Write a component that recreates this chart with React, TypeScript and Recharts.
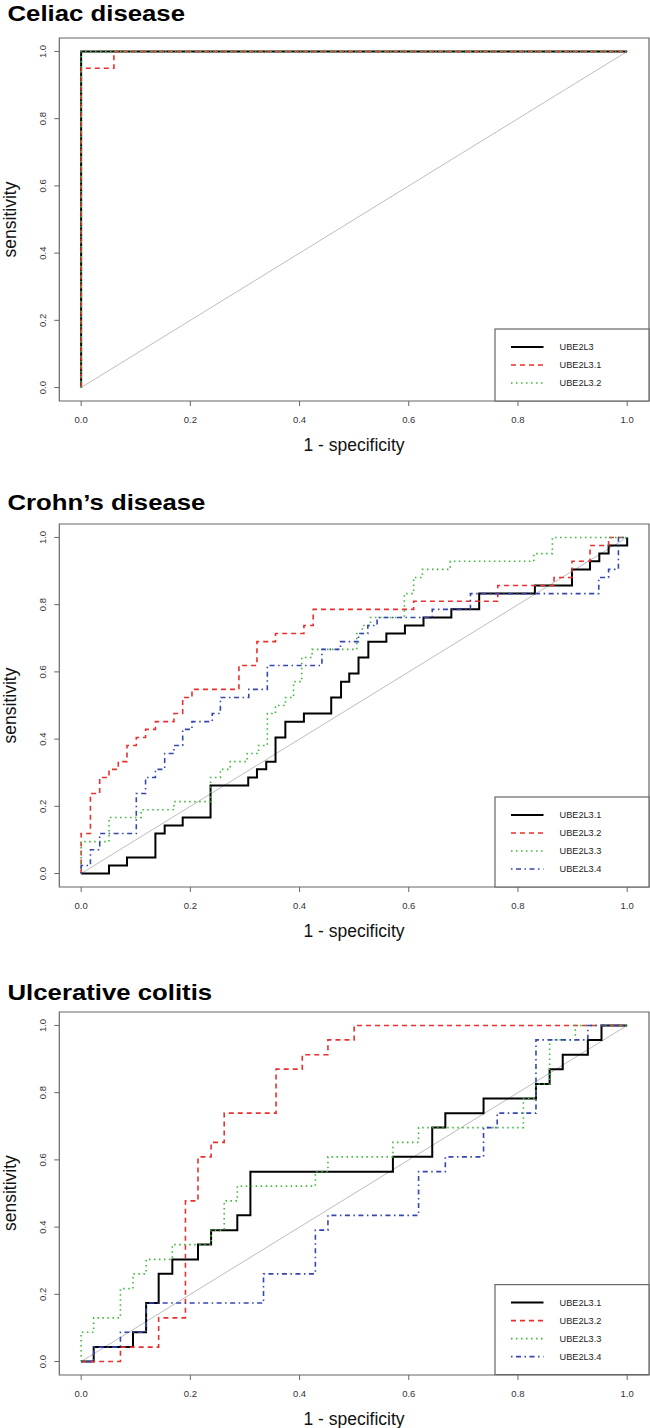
import React from 'react'
import { LineChart, Line, XAxis, YAxis, ReferenceArea } from 'recharts'

type Pt = [number, number]

// shared axis ticks
const xTicks = [0, 0.2, 0.4, 0.6, 0.8, 1]
const yTicks = [0, 0.2, 0.4, 0.6, 0.8, 1]
const diagonal: Pt[] = [[0, 0], [1, 1]]

// ROC corners (1 - specificity, sensitivity), drawn as stepAfter
const celiacNames = ['UBE2L3', 'UBE2L3.1', 'UBE2L3.2']
const celiacA: Pt[] = [[0, 0], [0, 1], [1, 1]]
const celiacB: Pt[] = [[0, 0], [0, 0.95], [0.06, 1], [1, 1]]
const celiacC: Pt[] = [[0, 0], [0, 1], [1, 1]]

const crohnNames = ['UBE2L3.1', 'UBE2L3.2', 'UBE2L3.3', 'UBE2L3.4']
const crohnA: Pt[] = [
  [0, 0], [0.051, 0.024], [0.084, 0.048], [0.136, 0.119], [0.153, 0.143], [0.186, 0.167],
  [0.237, 0.262], [0.306, 0.286], [0.322, 0.31], [0.339, 0.333], [0.356, 0.405], [0.374, 0.452],
  [0.408, 0.476], [0.458, 0.524], [0.476, 0.571], [0.491, 0.595], [0.508, 0.643], [0.526, 0.69],
  [0.559, 0.714], [0.593, 0.738], [0.627, 0.762], [0.678, 0.786], [0.729, 0.833], [0.831, 0.857],
  [0.899, 0.905], [0.932, 0.929], [0.949, 0.952], [0.966, 0.976], [1, 1],
]
const crohnB: Pt[] = [
  [0, 0], [0, 0.119], [0.017, 0.238], [0.034, 0.286], [0.051, 0.31], [0.068, 0.333], [0.084, 0.381],
  [0.101, 0.405], [0.118, 0.429], [0.136, 0.452], [0.17, 0.476], [0.186, 0.524], [0.203, 0.548],
  [0.289, 0.619], [0.322, 0.69], [0.356, 0.714], [0.408, 0.738], [0.425, 0.786], [0.609, 0.81],
  [0.763, 0.857], [0.866, 0.881], [0.899, 0.929], [0.932, 0.976], [0.966, 1], [1, 1],
]
const crohnC: Pt[] = [
  [0, 0], [0, 0.095], [0.051, 0.167], [0.11, 0.19], [0.17, 0.214], [0.237, 0.286], [0.255, 0.31],
  [0.273, 0.333], [0.304, 0.357], [0.325, 0.381], [0.341, 0.476], [0.356, 0.5], [0.374, 0.524],
  [0.389, 0.571], [0.404, 0.643], [0.423, 0.667], [0.505, 0.714], [0.515, 0.738], [0.53, 0.762],
  [0.592, 0.833], [0.609, 0.881], [0.625, 0.905], [0.676, 0.929], [0.829, 0.952], [0.863, 1], [1, 1],
]
const crohnD: Pt[] = [
  [0, 0], [0, 0.024], [0.017, 0.071], [0.034, 0.119], [0.101, 0.238], [0.118, 0.286], [0.136, 0.31],
  [0.153, 0.357], [0.17, 0.381], [0.186, 0.429], [0.203, 0.452], [0.24, 0.476], [0.255, 0.524],
  [0.307, 0.548], [0.341, 0.619], [0.441, 0.667], [0.475, 0.69], [0.508, 0.714], [0.525, 0.738],
  [0.542, 0.762], [0.643, 0.786], [0.713, 0.833], [0.948, 0.881], [0.966, 0.905], [0.984, 1], [1, 1],
]

const ucNames = ['UBE2L3.1', 'UBE2L3.2', 'UBE2L3.3', 'UBE2L3.4']
const ucA: Pt[] = [
  [0, 0], [0.023, 0.043], [0.095, 0.087], [0.119, 0.174], [0.142, 0.261], [0.167, 0.304],
  [0.214, 0.348], [0.238, 0.391], [0.286, 0.435], [0.31, 0.565], [0.571, 0.609], [0.643, 0.696],
  [0.667, 0.739], [0.737, 0.783], [0.833, 0.826], [0.858, 0.87], [0.882, 0.913], [0.928, 0.957],
  [0.953, 1], [1, 1],
]
const ucB: Pt[] = [
  [0, 0], [0.072, 0.043], [0.142, 0.13], [0.191, 0.478], [0.214, 0.609], [0.238, 0.652],
  [0.262, 0.739], [0.357, 0.87], [0.405, 0.913], [0.452, 0.957], [0.5, 1], [1, 1],
]
const ucC: Pt[] = [
  [0, 0], [0, 0.087], [0.023, 0.13], [0.072, 0.217], [0.095, 0.261], [0.119, 0.304], [0.167, 0.348],
  [0.238, 0.391], [0.262, 0.478], [0.286, 0.522], [0.429, 0.565], [0.452, 0.609], [0.571, 0.652],
  [0.618, 0.696], [0.81, 0.783], [0.833, 0.826], [0.858, 0.957], [0.905, 1], [1, 1],
]
const ucD: Pt[] = [
  [0, 0], [0.023, 0.043], [0.072, 0.087], [0.119, 0.174], [0.334, 0.261], [0.429, 0.391],
  [0.452, 0.435], [0.618, 0.565], [0.667, 0.609], [0.737, 0.696], [0.762, 0.739], [0.833, 0.957],
  [0.928, 1], [1, 1],
]

const lineStyles = [
  { color: '#000000', width: 2, dash: undefined as string | undefined },
  { color: '#e8302e', width: 1.6, dash: '5 4' },
  { color: '#3cb83c', width: 1.6, dash: '1.5 3.5' },
  { color: '#3546b0', width: 1.6, dash: '1.5 3.5 5 3.5' },
]

const FONT = '"Liberation Sans", Arial, Helvetica, sans-serif'
const BOX_H = 363
const TOP_PAD = 10

const toRows = (pts: Pt[]) => pts.map(([x, y]) => ({ x, y }))

function XTick(props: any) {
  const { x, y, payload } = props
  return (
    <text x={x} y={y + 14.5} textAnchor="middle" fontSize={9.5} fill="#333" fontFamily={FONT}>
      {payload.value.toFixed(1)}
    </text>
  )
}

function YTick(props: any) {
  const { x, y, payload } = props
  return (
    <text transform={`translate(${x - 6.5},${y}) rotate(-90)`} textAnchor="middle" fontSize={9.5} fill="#333" fontFamily={FONT}>
      {payload.value.toFixed(1)}
    </text>
  )
}

interface PanelProps {
  title: string
  titleBase: number
  boxTop: number
  names: string[]
  series: Pt[][]
}

function Panel({ title, titleBase, boxTop, names, series }: PanelProps) {
  const boxBottom = boxTop + BOX_H
  const legTop = boxBottom - (names.length * 18 + 18)
  return (
    <>
      <div style={{ position: 'absolute', left: 0, top: boxTop - TOP_PAD }}>
        <LineChart width={650} height={TOP_PAD + BOX_H + 30} margin={{ top: TOP_PAD, right: 1, bottom: 0, left: 19.3 }}>
          <XAxis
            type="number"
            dataKey="x"
            domain={[-0.04, 1.04]}
            ticks={xTicks}
            allowDataOverflow
            interval={0}
            axisLine={false}
            tickLine={{ stroke: '#666' }}
            tickSize={5}
            height={30}
            tick={<XTick />}
          />
          <YAxis
            type="number"
            dataKey="y"
            domain={[-0.04, 1.04]}
            ticks={yTicks}
            allowDataOverflow
            interval={0}
            axisLine={false}
            tickLine={{ stroke: '#666' }}
            tickSize={5}
            width={40}
            tick={<YTick />}
          />
          <ReferenceArea x1={-0.04} x2={1.04} y1={-0.04} y2={1.04} fill="none" stroke="#666" strokeWidth={1.2} ifOverflow="visible" />
          <Line
            data={toRows(diagonal)}
            dataKey="y"
            type="linear"
            stroke="#bdbdbd"
            strokeWidth={1}
            dot={false}
            activeDot={false}
            legendType="none"
            isAnimationActive={false}
          />
          {series.map((pts, i) => (
            <Line
              key={names[i]}
              name={names[i]}
              data={toRows(pts)}
              dataKey="y"
              type="stepAfter"
              stroke={lineStyles[i].color}
              strokeWidth={lineStyles[i].width}
              strokeDasharray={lineStyles[i].dash}
              dot={false}
              activeDot={false}
              isAnimationActive={false}
            />
          ))}
        </LineChart>
      </div>
      <svg width={650} height={1428} style={{ position: 'absolute', left: 0, top: 0, pointerEvents: 'none' }} fontFamily={FONT}>
        <text transform={`translate(7.5,${titleBase}) scale(1.12,1)`} fontSize={23} fontWeight="bold" fill="#000">{title}</text>
        <text x={354} y={boxBottom + 50} fontSize={17.5} textAnchor="middle" fill="#111">1 - specificity</text>
        <text transform={`translate(15.5,${boxTop + BOX_H / 2}) rotate(-90)`} fontSize={17.5} textAnchor="middle" fill="#111">sensitivity</text>
        <rect x={495} y={legTop} width={154} height={boxBottom - legTop} fill="#fff" stroke="#666" strokeWidth={1.2} />
        {names.map((n, i) => {
          const ry = legTop + 18 + i * 18
          return (
            <g key={n}>
              <line x1={511} x2={543.5} y1={ry} y2={ry} stroke={lineStyles[i].color} strokeWidth={lineStyles[i].width} strokeDasharray={lineStyles[i].dash} />
              <text x={559.5} y={ry + 3.3} fontSize={9.2} fill="#222">{n}</text>
            </g>
          )
        })}
      </svg>
    </>
  )
}

export default function App() {
  return (
    <div style={{ position: 'relative', width: 650, height: 1428, background: '#fff', overflow: 'hidden' }}>
      <style>{'body{margin:0}'}</style>
      <Panel title="Celiac disease" titleBase={21.2} boxTop={38} names={celiacNames} series={[celiacA, celiacB, celiacC]} />
      <Panel title="Crohn’s disease" titleBase={509.5} boxTop={524} names={crohnNames} series={[crohnA, crohnB, crohnC, crohnD]} />
      <Panel title="Ulcerative colitis" titleBase={1000} boxTop={1011.6} names={ucNames} series={[ucA, ucB, ucC, ucD]} />
    </div>
  )
}
